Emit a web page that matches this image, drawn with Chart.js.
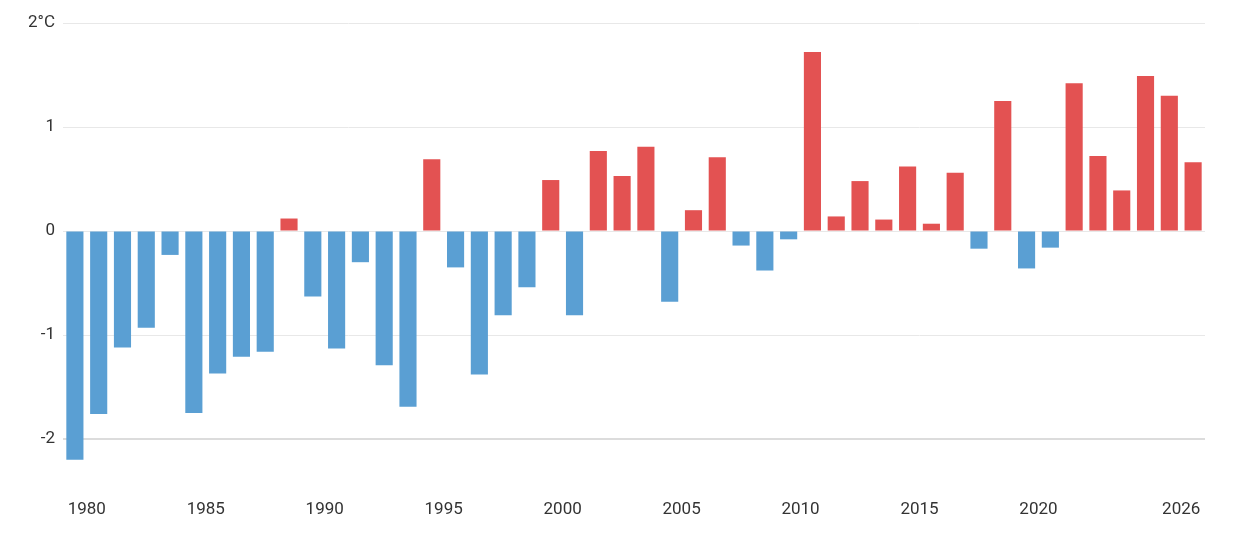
<!DOCTYPE html>
<html>
<head>
<meta charset="utf-8">
<script src="https://cdn.jsdelivr.net/npm/chart.js@4"></script>
<style>
  html, body { margin: 0; padding: 0; background: #fff; }
  #wrap { width: 1252px; height: 539px; }
</style>
</head>
<body>
<div id="wrap"><canvas id="chart"></canvas></div>
<script>
// season years (bar for year Y sits between Y and Y+1 on the axis)
const years = [
  1979, 1980, 1981, 1982, 1983, 1984, 1985, 1986, 1987, 1988,
  1989, 1990, 1991, 1992, 1993, 1994, 1995, 1996, 1997, 1998,
  1999, 2000, 2001, 2002, 2003, 2004, 2005, 2006, 2007, 2008,
  2009, 2010, 2011, 2012, 2013, 2014, 2015, 2016, 2017, 2018,
  2019, 2020, 2021, 2022, 2023, 2024, 2025, 2026
];
// temperature anomaly, °C
const anomaly = [
  -2.20, -1.76, -1.12, -0.93, -0.23, -1.75, -1.37, -1.21, -1.16, 0.12,
  -0.63, -1.13, -0.30, -1.29, -1.69, 0.69, -0.35, -1.38, -0.81, -0.54,
  0.49, -0.81, 0.77, 0.53, 0.81, -0.68, 0.20, 0.71, -0.14, -0.38,
  -0.08, 1.72, 0.14, 0.48, 0.11, 0.62, 0.07, 0.56, -0.17, 1.25,
  -0.36, -0.16, 1.42, 0.72, 0.39, 1.49, 1.30, 0.66
];
const xTicks = [1980, 1985, 1990, 1995, 2000, 2005, 2010, 2015, 2020, 2026];
const yTicks = [-2, -1, 0, 1, 2];

const BLUE = "#5a9fd3";
const RED = "#e35252";

new Chart(document.getElementById("chart"), {
  type: "bar",
  data: {
    datasets: [
      {
        data: years.map((y, i) => ({ x: y + 0.5, y: anomaly[i] })),
        backgroundColor: anomaly.map(v => (v < 0 ? BLUE : RED)),
        borderWidth: 0,
        categoryPercentage: 0.8,
        barPercentage: 0.9
      }
    ]
  },
  options: {
    responsive: true,
    maintainAspectRatio: false,
    animation: false,
    layout: { padding: { top: 23, right: 47, bottom: 0, left: 0 } },
    plugins: { legend: { display: false }, tooltip: { enabled: false } },
    scales: {
      x: {
        type: "linear",
        offset: false,
        min: 1979,
        max: 2027,
        grid: { display: false, drawTicks: false },
        border: { display: false },
        afterBuildTicks: s => { s.ticks = xTicks.map(v => ({ value: v })); },
        afterFit: s => { s.height = 48; },
        ticks: {
          padding: 9,
          maxRotation: 0,
          autoSkip: false,
          color: "#333",
          font: { family: "Roboto", size: 17 },
          callback: v => String(v)
        }
      },
      y: {
        min: -2.5,
        max: 2,
        afterBuildTicks: s => { s.ticks = yTicks.map(v => ({ value: v })); },
        afterFit: s => { s.width = 63; },
        border: { display: false },
        grid: {
          drawTicks: false,
          color: c => (c.tick && c.tick.value === -2 ? "#dcdcdc" : "#e8e8e8"),
          lineWidth: c => (c.tick && c.tick.value === -2 ? 2 : 1)
        },
        ticks: {
          padding: 8,
          color: "#333",
          font: { family: "Roboto", size: 17 },
          callback: v => (v === 2 ? "2°C" : String(v))
        }
      }
    }
  }
});
</script>
</body>
</html>
